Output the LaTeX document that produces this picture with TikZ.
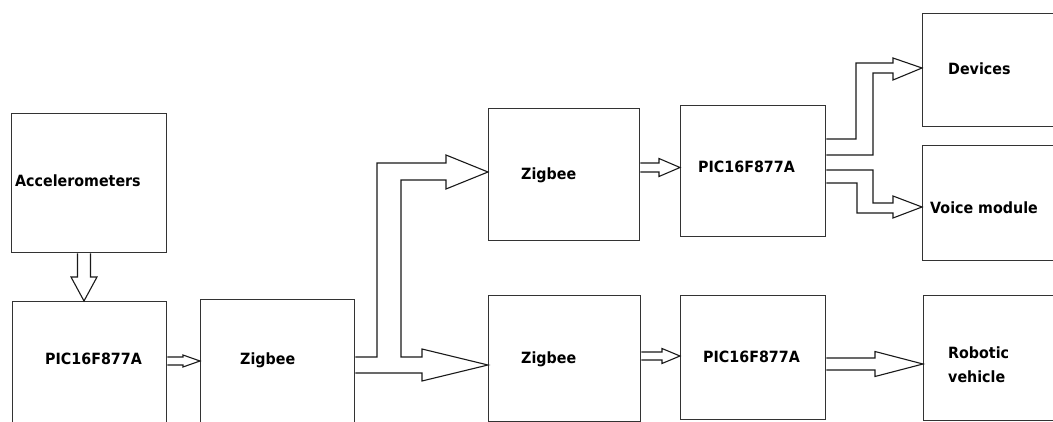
\documentclass[tikz,border=0pt]{standalone}
\usepackage{fontspec}
\setmainfont{DejaVu Sans}[FakeStretch=0.92]
\usetikzlibrary{calc}

% hollow block arrow: start, end, shaft half width, head half width, head length
\newcommand{\blockarrow}[5]{%
  \draw[blk] let \p1=#1, \p2=#2 in
    (\x1,\y1+#3) -- (\x2-#5,\y1+#3) -- (\x2-#5,\y1+#4) -- (\x2,\y1)
    -- (\x2-#5,\y1-#4) -- (\x2-#5,\y1-#3) -- (\x1,\y1-#3);}

\begin{document}
\begin{tikzpicture}[x=1pt,y=-1pt,
box/.style={draw=black!80,line width=1.3pt,anchor=north west,inner sep=0pt},
blk/.style={draw=black!90,line width=1.1pt,line join=miter},
lbl/.style={anchor=base west,inner sep=0pt,font=\fontsize{15.5}{24}\selectfont\bfseries}]
\useasboundingbox (0,0) rectangle (1053,422);

\node[box,minimum width=155pt,minimum height=139pt] (acc) at (11,113) {};
\node[box,minimum width=154pt,minimum height=150pt] (pic1) at (12,301) {};
\node[box,minimum width=154pt,minimum height=150pt] (zig1) at (200,299) {};
\node[box,minimum width=151pt,minimum height=132pt] (zig2) at (488,108) {};
\node[box,minimum width=145pt,minimum height=131pt] (pic2) at (680,105) {};
\node[box,minimum width=160pt,minimum height=113pt] (dev) at (922,13) {};
\node[box,minimum width=160pt,minimum height=115pt] (voice) at (922,145) {};
\node[box,minimum width=152pt,minimum height=126pt] (zig3) at (488,295) {};
\node[box,minimum width=145pt,minimum height=124pt] (pic3) at (680,295) {};
\node[box,minimum width=160pt,minimum height=125pt] (robot) at (923,295) {};

\node[lbl] (accT) at (15,187) {Accelerometers};
\node[lbl] (pic1T) at (45,364) {PIC16F877A};
\node[lbl] (zig1T) at (240,364) {Zigbee};
\node[lbl] (zig2T) at (521,180) {Zigbee};
\node[lbl] (pic2T) at (698,173) {PIC16F877A};
\node[lbl] (devT) at (948,75) {Devices};
\node[lbl] (voiceT) at (930,214) {Voice module};
\node[lbl] (zig3T) at (521,363) {Zigbee};
\node[lbl] (pic3T) at (703,362) {PIC16F877A};
\node[lbl,anchor=west,align=left] (robotT) at (948,365) {Robotic\\vehicle};

\draw[blk] let \p1=(acc.south -| 84,0), \p2=(pic1.north -| 84,0) in
  (\x1-6.5pt,\y1) -- (\x1-6.5pt,\y2+24pt) -- (\x1-13pt,\y2+24pt) -- (\x2,\y2)
  -- (\x1+13pt,\y2+24pt) -- (\x1+6.5pt,\y2+24pt) -- (\x1+6.5pt,\y1);
\blockarrow{(pic1.east |- 0,361)}{(zig1.west)}{4pt}{6pt}{17pt}
\blockarrow{(zig2.east |- 0,167.5)}{(pic2.west)}{4.5pt}{9pt}{21pt}
\blockarrow{(zig3.east |- 0,356)}{(pic3.west)}{4pt}{7.5pt}{18pt}
\blockarrow{(pic3.east |- 0,364)}{(robot.west)}{6pt}{12.5pt}{48pt}

\draw[blk] (zig1.east |- 0,357) -- (377,357) -- (377,163) -- (446,163) -- (446,155)
  -- (zig2.west |- 0,172) -- (446,189) -- (446,180) -- (401,180) -- (401,357)
  -- (422,357) -- (422,349) -- (zig3.west |- 0,365) -- (422,381) -- (422,373)
  -- (zig1.east |- 0,373);

\draw[blk] (pic2.east |- 0,139) -- (856,139) -- (856,63) -- (893,63) -- (893,58)
  -- (dev.west |- 0,68) -- (893,80) -- (893,73) -- (873,73) -- (873,155)
  -- (pic2.east |- 0,155);
\draw[blk] (pic2.east |- 0,170) -- (873,170) -- (873,203) -- (893,203) -- (893,196)
  -- (voice.west |- 0,207) -- (893,218) -- (893,213) -- (857,213) -- (857,183)
  -- (pic2.east |- 0,183);
\end{tikzpicture}
\end{document}
